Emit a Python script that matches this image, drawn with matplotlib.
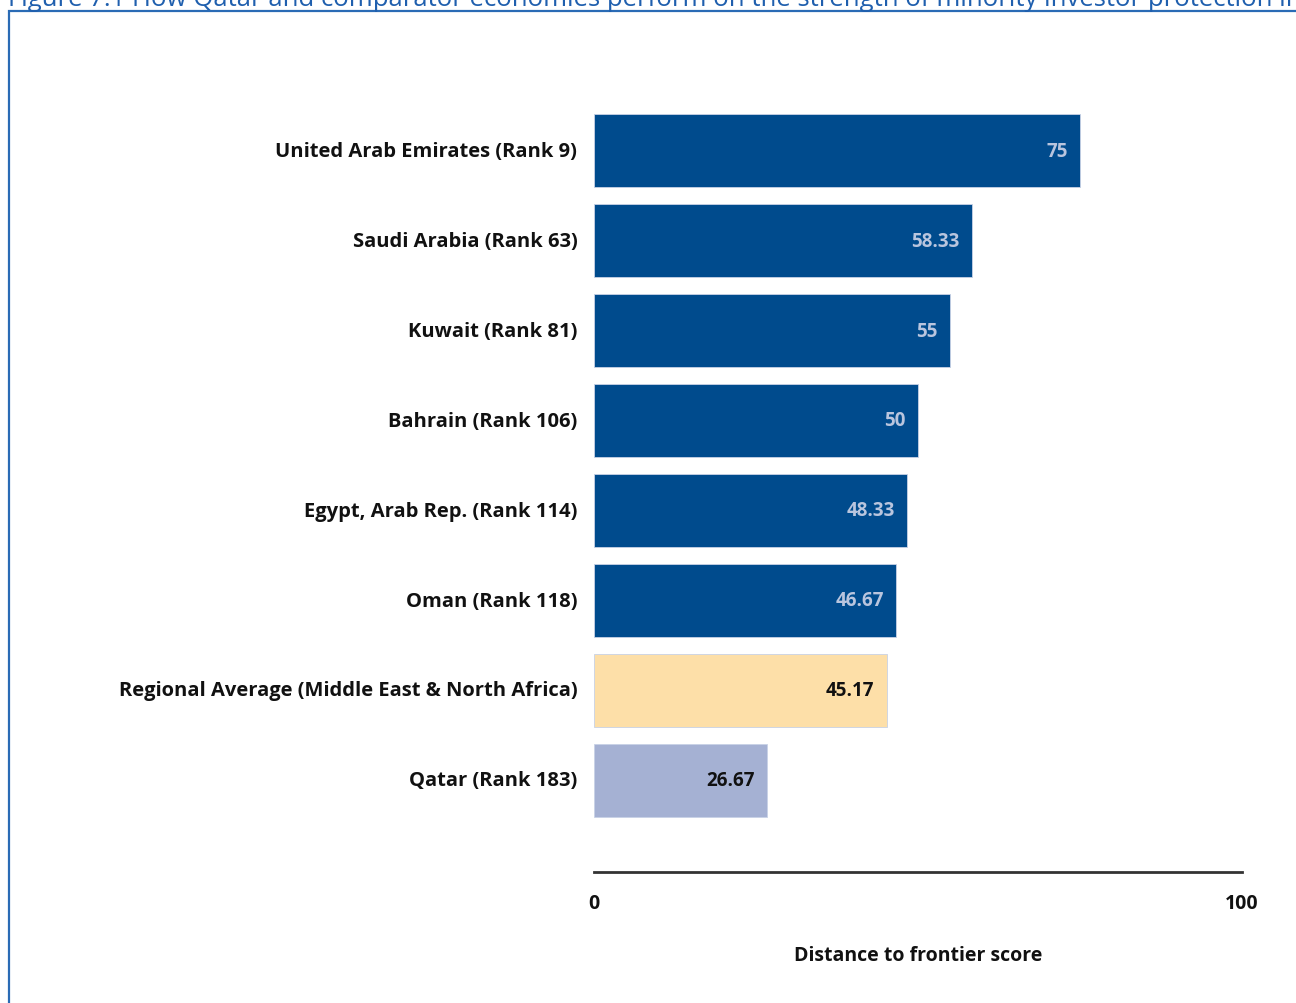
import matplotlib
matplotlib.use("Agg")
import matplotlib.pyplot as plt
from matplotlib.patches import Rectangle

# data
labels = [
    "United Arab Emirates (Rank 9)",
    "Saudi Arabia (Rank 63)",
    "Kuwait (Rank 81)",
    "Bahrain (Rank 106)",
    "Egypt, Arab Rep. (Rank 114)",
    "Oman (Rank 118)",
    "Regional Average (Middle East & North Africa)",
    "Qatar (Rank 183)",
]
values = [75, 58.33, 55, 50, 48.33, 46.67, 45.17, 26.67]
value_text = ["75", "58.33", "55", "50", "48.33", "46.67", "45.17", "26.67"]

dark_blue = "#004b8d"
colors = [dark_blue] * 6 + ["#fddfa8", "#a5b1d3"]
text_colors = ["#b9c5de"] * 6 + ["#111111", "#111111"]

W, H = 1296, 1004
fig = plt.figure(figsize=(W / 100, H / 100), dpi=100)

plt.rcParams["font.family"] = ["Open Sans", "DejaVu Sans"]

# pixel layout
x0_px, x1_px = 594, 1242
top_px, bot_px = 105, 873
ax = fig.add_axes([x0_px / W, 1 - bot_px / H, (x1_px - x0_px) / W, (bot_px - top_px) / H])

pos = list(range(len(values)))
ax.barh(pos, values, height=0.82, color=colors, edgecolor="#c8d2e6", linewidth=0.6)
ax.set_xlim(0, 100)
ax.set_ylim((bot_px - 151.5) / 90, (top_px - 151.5) / 90)

for i, (v, t) in enumerate(zip(values, value_text)):
    ax.text(v - 1.9, i, t, ha="right", va="center", fontsize=13.5,
            fontweight="bold", color=text_colors[i])

ax.set_yticks(pos)
ax.set_yticklabels(labels, fontsize=14.5, fontweight="bold", color="#111111",
                   va="center")
ax.tick_params(axis="y", length=0, pad=12)

ax.set_xticks([0, 100])
ax.set_xticklabels(["0", "100"], fontsize=14, fontweight="bold", color="#111111")
ax.tick_params(axis="x", length=0, pad=15)
ax.set_xlabel("Distance to frontier score", fontsize=14, fontweight="bold",
              color="#111111", labelpad=23)

for s in ["top", "right", "left"]:
    ax.spines[s].set_visible(False)
ax.spines["bottom"].set_linewidth(2)
ax.spines["bottom"].set_color("#333333")

# frame and title cut by the image edge
fig.patches.append(Rectangle((8.5 / W, -0.05), 1.2, 1 - 12 / H + 0.05,
                             transform=fig.transFigure, fill=False,
                             edgecolor="#2a6bb5", linewidth=1.6))
fig.text(8 / W, 1 - 6 / H, "Figure 7.1 How Qatar and comparator economies perform on the strength of minority investor protection index",
         ha="left", va="baseline", fontsize=18.5, color="#1f5fae")

plt.savefig("out.png", dpi=100)
